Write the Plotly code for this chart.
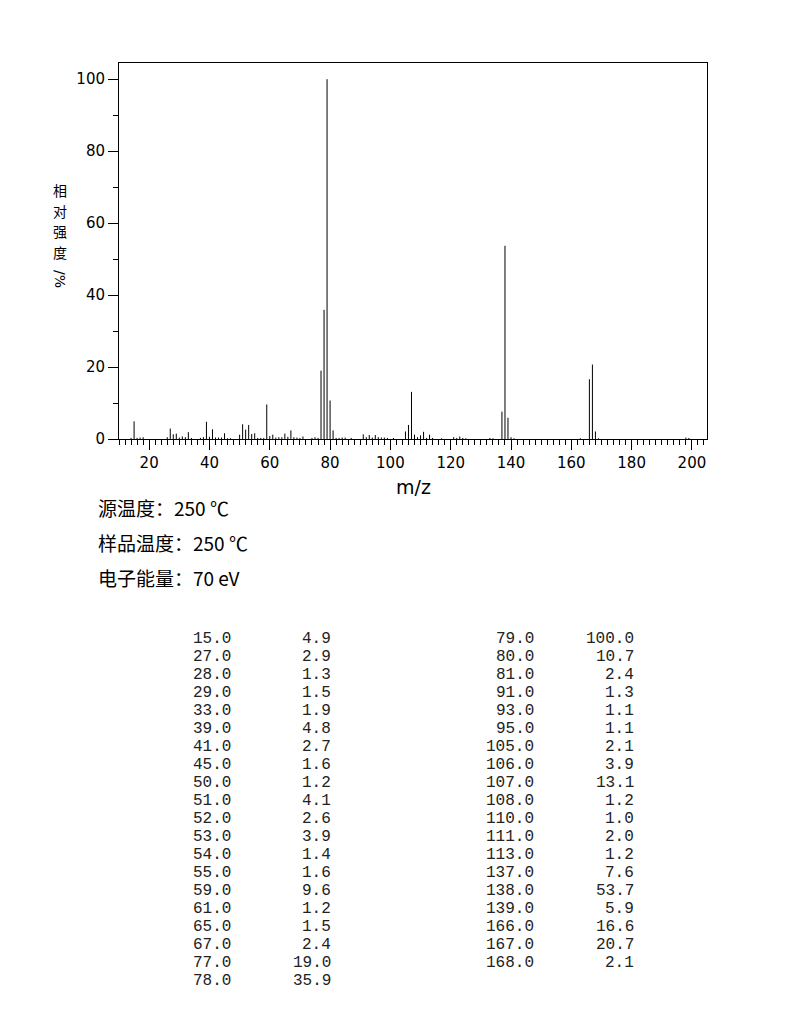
import plotly.graph_objects as go

# Table peaks (m/z, relative intensity %)
table_left_mz = [15, 27, 28, 29, 33, 39, 41, 45, 50, 51, 52, 53, 54, 55, 59, 61, 65, 67, 77, 78]
table_left_int = [4.9, 2.9, 1.3, 1.5, 1.9, 4.8, 2.7, 1.6, 1.2, 4.1, 2.6, 3.9, 1.4, 1.6, 9.6, 1.2, 1.5, 2.4, 19.0, 35.9]
table_right_mz = [79, 80, 81, 91, 93, 95, 105, 106, 107, 108, 110, 111, 113, 137, 138, 139, 166, 167, 168]
table_right_int = [100.0, 10.7, 2.4, 1.3, 1.1, 1.1, 2.1, 3.9, 13.1, 1.2, 1.0, 2.0, 1.2, 7.6, 53.7, 5.9, 16.6, 20.7, 2.1]

# Minor peaks (< 1 %), estimated from the plot
minor_mz = [14, 16, 17, 18, 26, 30, 31, 32, 34, 37, 38, 40, 42, 43, 44, 46, 47,
            56, 57, 58, 60, 62, 63, 64, 66, 68, 69, 70, 71, 74, 75, 76, 82, 83,
            84, 85, 87, 92, 94, 96, 97, 98, 99, 101, 109, 112, 114, 117, 121,
            122, 123, 124, 125, 133, 134, 140, 141, 163, 169, 198, 199]
minor_int = [0.3, 0.3, 0.4, 0.5, 0.5, 0.4, 0.7, 0.5, 0.3, 0.3, 0.5, 0.6, 0.4, 0.4, 0.4, 0.2, 0.2,
             0.3, 0.3, 0.3, 0.8, 0.4, 0.5, 0.5, 0.6, 0.5, 0.4, 0.3, 0.7, 0.3, 0.5, 0.3, 0.3, 0.3,
             0.4, 0.4, 0.3, 0.5, 0.4, 0.5, 0.4, 0.4, 0.3, 0.3, 0.5, 0.3, 0.3, 0.2, 0.5,
             0.3, 0.7, 0.3, 0.2, 0.3, 0.2, 0.5, 0.2, 0.2, 0.2, 0.4, 0.3]

info_lines = ["源温度：250 ℃", "样品温度：250 ℃", "电子能量：70 eV"]
ylabel_chars = ["相", "对", "强", "度"]
ylabel_unit = "/%"

all_mz = table_left_mz + table_right_mz + minor_mz
all_int = table_left_int + table_right_int + minor_int

xs, ys = [], []
for m, v in zip(all_mz, all_int):
    xs += [m, m, None]
    ys += [0, v, None]

fig = go.Figure()
fig.add_trace(go.Scatter(x=xs, y=ys, mode="lines",
                         line=dict(color="black", width=1),
                         hoverinfo="skip", showlegend=False))

OFF = 8  # page body margin
FW, FH = 794 - 2 * OFF, 1020 - 2 * OFF
L, T, W, H = 119 - OFF, 63 - OFF, 588, 376


def pp(x, y):
    # page pixel -> paper coords
    return (x - OFF - L) / W, (T + H - (y - OFF)) / H


annotations = []
ax, ay = pp(413, 487)
annotations.append(dict(x=ax, y=ay, text="m/z", showarrow=False, xanchor="center", yanchor="middle",
                        font=dict(family="DejaVu Sans", size=19, color="black")))
for i, ch in enumerate(ylabel_chars):
    ax, ay = pp(60, 190 + 20.5 * i)
    annotations.append(dict(x=ax, y=ay, text=ch, showarrow=False, xanchor="center",
                            yanchor="middle", font=dict(family="Noto Sans CJK SC", size=14, color="black")))
ax, ay = pp(60, 279)
annotations.append(dict(x=ax, y=ay, text=ylabel_unit, textangle=90, showarrow=False, xanchor="center",
                        yanchor="middle", font=dict(family="DejaVu Sans", size=14, color="black")))
for i, t in enumerate(info_lines):
    ax, ay = pp(96, 507 + 35 * i)
    annotations.append(dict(x=ax, y=ay, text=t, showarrow=False, xanchor="left", yanchor="middle",
                            font=dict(family="Noto Sans CJK SC", size=19, color="black")))
mono = dict(family="Liberation Mono", size=16, color="#222")
for col_mz, col_int, x1, x2 in [(table_left_mz, table_left_int, 233, 333),
                                (table_right_mz, table_right_int, 536, 636)]:
    for i, (m, v) in enumerate(zip(col_mz, col_int)):
        yy = 639 + 18 * i
        ax, ay = pp(x1, yy)
        annotations.append(dict(x=ax, y=ay, text=f"{m:.1f}", showarrow=False, xanchor="right",
                                yanchor="middle", font=mono))
        ax, ay = pp(x2, yy)
        annotations.append(dict(x=ax, y=ay, text=f"{v:.1f}", showarrow=False, xanchor="right",
                                yanchor="middle", font=mono))

for a in annotations:
    a["xref"] = "paper"
    a["yref"] = "paper"

fig.update_layout(
    width=FW, height=FH,
    margin=dict(l=L, r=FW - L - W, t=T, b=FH - T - H, pad=0),
    paper_bgcolor="white", plot_bgcolor="white",
    annotations=annotations,
    xaxis=dict(range=[10, 205], tick0=0, dtick=20, ticks="outside", ticklen=10, tickwidth=1,
               tickcolor="black", showline=True, linecolor="black", linewidth=1, mirror=True,
               showgrid=False, zeroline=False,
               minor=dict(dtick=2, tick0=0, ticks="outside", ticklen=5, tickwidth=1, tickcolor="black",
                          showgrid=False),
               tickfont=dict(family="DejaVu Sans", size=15, color="black")),
    yaxis=dict(range=[0, 104.5], tick0=0, dtick=20, ticks="outside", ticklen=10, tickwidth=1,
               tickcolor="black", showline=True, linecolor="black", linewidth=1, mirror=True,
               showgrid=False, zeroline=False,
               minor=dict(dtick=10, tick0=0, ticks="outside", ticklen=5, tickwidth=1, tickcolor="black",
                          showgrid=False),
               tickfont=dict(family="DejaVu Sans", size=15, color="black")),
)

fig.write_html("out.html")
